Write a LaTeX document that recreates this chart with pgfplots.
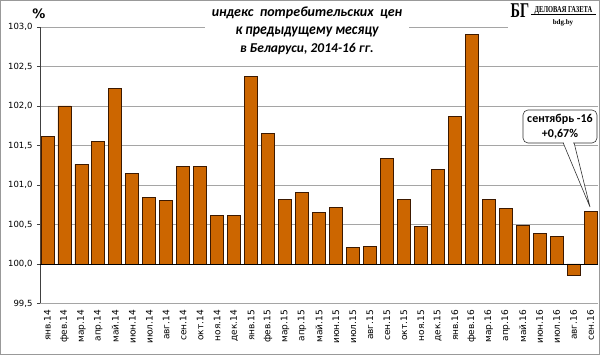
\documentclass[border=0pt]{standalone}
\usepackage{graphicx}
\usepackage{pgfplots}
\pgfplotsset{compat=1.18}
\usepackage{fontspec}
\setmainfont{DejaVu Sans}
\newfontfamily\titlefont{Carlito}
\newfontfamily\logofont{Liberation Serif}
\definecolor{barfill}{RGB}{204,102,0}
\definecolor{baredge}{RGB}{60,25,0}
\definecolor{gridc}{RGB}{165,165,165}
\begin{document}
\begin{tikzpicture}
\useasboundingbox (0pt,0pt) rectangle (600pt,355pt);
\draw[gray!80,line width=1pt] (0.5pt,0.5pt) rectangle (599.5pt,354.5pt);
\begin{axis}[
  at={(40pt,51.5pt)}, anchor=south west,
  scale only axis, width=558pt, height=276.5pt,
  xmin=-0.44, xmax=32.44, ymin=-0.5, ymax=3,
  axis x line*=bottom, axis y line*=left,
  x axis line style={gridc, line width=0.8pt, -},
  y axis line style={black!75, line width=0.8pt, -},
  ytick={-0.5,0,0.5,1,1.5,2,2.5,3},
  yticklabels={{99,5},{100,0},{100,5},{101,0},{101,5},{102,0},{102,5},{103,0}},
  yticklabel style={font=\fontsize{8.5}{10}\selectfont, xshift=-1pt},
  ytick style={black!75, line width=0.6pt},
  tick align=outside, major tick length=3pt,
  ymajorgrids, grid style={gridc, line width=0.8pt},
  xtick={0,...,32},
  xticklabels={янв.14,фев.14,мар.14,апр.14,май.14,июн.14,июл.14,авг.14,сен.14,окт.14,ноя.14,дек.14,янв.15,фев.15,мар.15,апр.15,май.15,июн.15,июл.15,авг.15,сен.15,окт.15,ноя.15,дек.15,янв.16,фев.16,мар.16,апр.16,май.16,июн.16,июл.16,авг.16,сен.16},
  xticklabel style={rotate=90, anchor=east, font=\fontsize{9}{10}\selectfont},
  xtick style={draw=none},
  clip=false,
]
\addplot[ybar, bar width=13pt, fill=barfill, draw=baredge, line width=0.8pt,
  y filter/.expression={y-100}] coordinates {
(0,101.61) (1,102.00) (2,101.26) (3,101.55) (4,102.22) (5,101.15) (6,100.84) (7,100.80)
(8,101.23) (9,101.24) (10,100.62) (11,100.62) (12,102.37) (13,101.65) (14,100.82) (15,100.90)
(16,100.65) (17,100.72) (18,100.21) (19,100.22) (20,101.34) (21,100.82) (22,100.48) (23,101.20)
(24,101.87) (25,102.91) (26,100.82) (27,100.70) (28,100.49) (29,100.39) (30,100.35) (31,99.85)
(32,100.67)
};
\draw[black, line width=0.9pt] (axis cs:-0.44,0) -- (axis cs:32.44,0);
\end{axis}
% title with white background covering grid
\fill[white] (205pt,296pt) rectangle (409pt,354pt);
\node[font=\titlefont\bfseries\itshape\fontsize{14}{16}\selectfont] at (307pt,342pt) {индекс\ \ потребительских\ \ цен};
\node[font=\titlefont\bfseries\itshape\fontsize{15.5}{18}\selectfont] at (307pt,323pt) {\scalebox{0.89}[1]{к предыдущему месяцу}};
\node[font=\titlefont\bfseries\itshape\fontsize{13.5}{14}\selectfont] at (307pt,306.5pt) {в Беларуси, 2014-16 гг.};
\node[font=\fontsize{13}{15}\selectfont\bfseries] at (39pt,341pt) {\%};
% logo
\fill[white] (508pt,325pt) rectangle (599pt,354pt);
\node[font=\logofont\bfseries\fontsize{21}{21}\selectfont, inner sep=0] at (520pt,344.5pt) {\scalebox{0.68}[1]{БГ}};
\node[font=\logofont\bfseries\fontsize{9}{9}\selectfont, inner sep=0] at (563.5pt,345pt) {\scalebox{0.72}[1]{ДЕЛОВАЯ ГАЗЕТА}};
\draw[black, line width=0.5pt] (531pt,340.3pt) -- (596pt,340.3pt);
\node[font=\logofont\bfseries\fontsize{7}{7}\selectfont, inner sep=0] at (563pt,332pt) {bdg.by};
% callout
\filldraw[fill=white, draw=black!80, line width=0.6pt] (563pt,212.5pt) -- (590pt,148pt) -- (574pt,212.5pt) -- cycle;
\draw[black!80, line width=0.6pt, fill=white, rounded corners=5pt] (523pt,212pt) rectangle (597pt,245pt);
\fill[white] (563.8pt,211pt) -- (573.3pt,211pt) -- (573.3pt,213.5pt) -- (563.8pt,213.5pt) -- cycle;
\node[font=\titlefont\bfseries\fontsize{12}{15}\selectfont, align=center] at (560pt,228.5pt) {сентябрь -16\\+0,67\%};
\end{tikzpicture}
\end{document}
